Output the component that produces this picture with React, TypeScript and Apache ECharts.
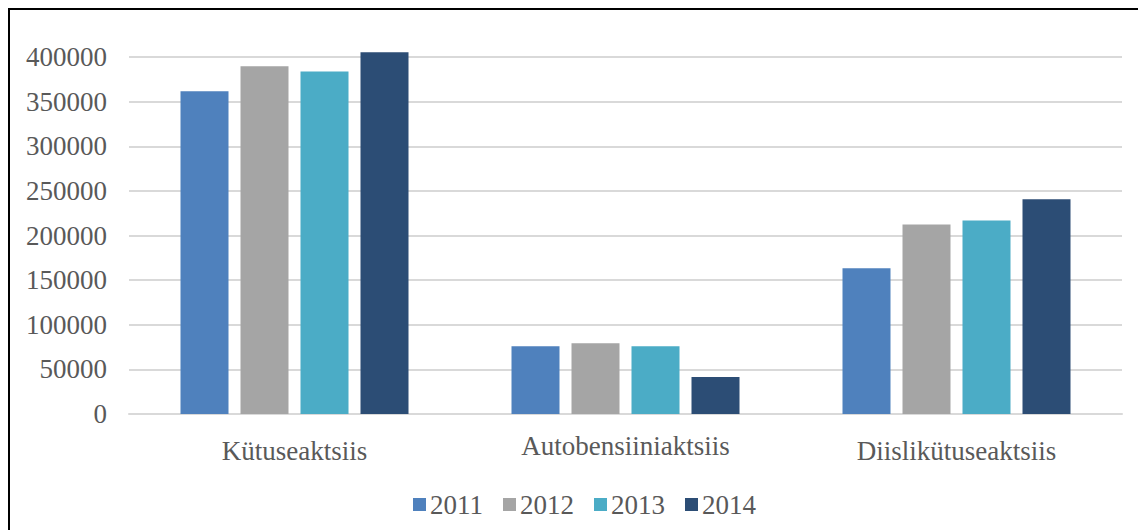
import React, { useEffect, useRef } from "react";
import * as echarts from "echarts";

const categories = ["Kütuseaktsiis", "Autobensiiniaktsiis", "Diislikütuseaktsiis"];
const years = ["2011", "2012", "2013", "2014"];
const values2011 = [361700, 76000, 163400];
const values2012 = [389500, 79300, 212300];
const values2013 = [383800, 76000, 216800];
const values2014 = [405300, 41500, 240700];
const yTicks = { min: 0, max: 400000, interval: 50000 };
const colors = ["#4F81BD", "#A5A5A5", "#4BACC6", "#2C4D75"];

export default function App() {
  const ref = useRef<HTMLDivElement>(null);
  useEffect(() => {
    if (!ref.current) return;
    const chart = echarts.init(ref.current, null, { renderer: "svg" });
    const seriesValues = [values2011, values2012, values2013, values2014];
    const font = "'Liberation Serif', 'Times New Roman', serif";
    chart.setOption({
      animation: false,
      backgroundColor: "#ffffff",
      textStyle: { fontFamily: font },
      graphic: [
        {
          type: "rect",
          shape: { x: 9, y: 9, width: 1160, height: 560 },
          style: { fill: "none", stroke: "#000000", lineWidth: 2 },
          z: 100,
        },
      ],
      grid: { left: 129, right: 16, top: 57, bottom: 116, containLabel: false },
      legend: {
        data: years,
        left: 408,
        top: 486,
        itemWidth: 13,
        itemHeight: 13,
        itemGap: 20,
        icon: "rect",
        textStyle: { fontFamily: font, fontSize: 27, color: "#595959", padding: [0, 0, 0, -1] },
      },
      xAxis: {
        type: "category",
        data: categories.map((c, i) =>
          i === 1 ? { value: c, textStyle: { padding: [-5, 0, 0, 0] } } : c
        ),
        axisLine: { show: true, lineStyle: { color: "#D9D9D9", width: 2 } },
        axisTick: { show: false },
        axisLabel: { fontFamily: font, fontSize: 27, color: "#595959", margin: 23 },
      },
      yAxis: {
        type: "value",
        min: yTicks.min,
        max: yTicks.max,
        interval: yTicks.interval,
        axisLine: { show: false },
        axisTick: { show: false },
        splitLine: { lineStyle: { color: "#D9D9D9", width: 2 } },
        axisLabel: {
          fontFamily: font,
          fontSize: 27,
          color: "#595959",
          margin: 22,
          formatter: (v: number) => String(v),
        },
      },
      series: years.map((y, i) => ({
        name: y,
        type: "bar",
        data: seriesValues[i],
        barWidth: 48,
        barGap: "25%",
        clip: false,
        itemStyle: { color: colors[i] },
      })),
    });
    return () => chart.dispose();
  }, []);
  return (
    <div style={{ position: "fixed", left: 0, top: 0, width: 1138, height: 530, overflow: "hidden" }}>
      <div ref={ref} style={{ width: 1138, height: 530 }} />
    </div>
  );
}
